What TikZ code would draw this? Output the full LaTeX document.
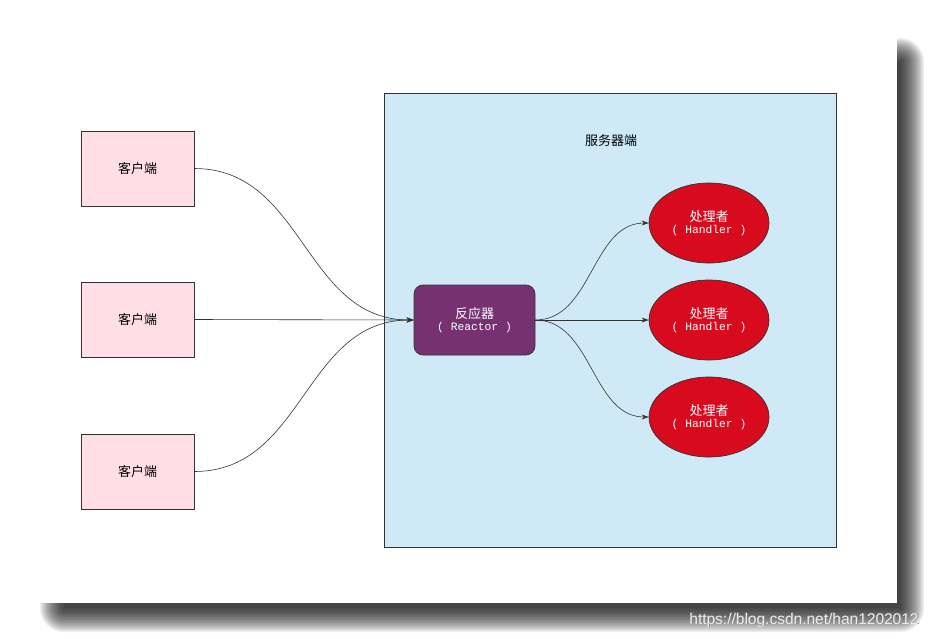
\documentclass[tikz,border=0pt]{standalone}
\usepackage{fontspec}
\setmainfont{Liberation Sans}
\newfontfamily\cjk{Noto Sans CJK SC}
\newfontfamily\monof{Liberation Mono}
\usetikzlibrary{shapes.geometric,arrows.meta}
\definecolor{pinkfill}{RGB}{255,223,229}
\definecolor{srvfill}{RGB}{207,234,246}
\definecolor{reacfill}{RGB}{118,50,112}
\definecolor{handfill}{RGB}{215,10,30}
\definecolor{strk}{RGB}{51,51,51}
\tikzset{
  client/.style={draw=strk,fill=pinkfill,minimum width=113pt,minimum height=75pt,inner sep=0pt,font=\cjk\fontsize{13}{15}\selectfont,line width=0.7pt},
  reactor/.style={draw=strk,fill=reacfill,rounded corners=9pt,minimum width=121pt,minimum height=70pt,inner sep=0pt,text=white,align=center,line width=0.7pt},
  handler/.style={ellipse,draw=strk,fill=handfill,minimum width=120pt,minimum height=80pt,inner sep=0pt,text=white,align=center,line width=0.7pt},
  conn/.style={draw=strk,line width=0.6pt,-{Stealth[length=7pt,width=5pt]}},
}
\newcommand{\cjkt}[1]{{\cjk\fontsize{13}{15}\selectfont #1}}
\newcommand{\monot}[1]{{\monof\fontsize{11.3}{15}\selectfont #1}}
\begin{document}
\begin{tikzpicture}[x=1pt,y=-1pt]
\useasboundingbox (0,0) rectangle (932,638);
% shadow
\foreach \d in {0,1.5,...,24}{
  \fill[black,opacity=0.075,rounded corners=\d pt] (64-\d,62-\d) rectangle (900+\d,608+\d);
}
% page
\fill[white] (35,35) rectangle (897,603);
% watermark
\node[text=black!45,font=\fontsize{15.5}{17}\selectfont] at (804.8,620.8) {https://blog.csdn.net/han1202012};
\node[text=white!92!black,font=\fontsize{15.5}{17}\selectfont] (wm) at (804,620) {https://blog.csdn.net/han1202012};
% server
\node[draw=strk,fill=srvfill,minimum width=452pt,minimum height=454pt,inner sep=0pt,line width=0.7pt] (srv) at (610,320) {};
\node[font=\cjk\fontsize{13}{15}\selectfont] (srvlabel) at (611,141) {服务器端};
% clients
\node[client] (c1) at (137.5,168.5) {客户端};
\node[client] (c2) at (137.5,319.5) {客户端};
\node[client] (c3) at (137.5,471.5) {客户端};
% reactor
\node[reactor] (r) at (474.5,320) {\cjkt{反应器}\\[0.5pt]\monot{( Reactor )}};
% handlers
\node[handler] (h1) at (709,223) {\cjkt{处理者}\\[0.5pt]\monot{( Handler )}};
\node[handler] (h2) at (709,320) {\cjkt{处理者}\\[0.5pt]\monot{( Handler )}};
\node[handler] (h3) at (709,417) {\cjkt{处理者}\\[0.5pt]\monot{( Handler )}};
% connectors
\draw[conn] (c1.east) .. controls +(110,0) and +(-110,0) .. (r.west);
\draw[conn] (c2.east) -- (r.west);
\draw[conn] (c3.east) .. controls +(110,0) and +(-110,0) .. (r.west);
\draw[conn] (r.east) .. controls +(57,0) and +(-57,0) .. (h1.west);
\draw[conn] (r.east) -- (h2.west);
\draw[conn] (r.east) .. controls +(57,0) and +(-57,0) .. (h3.west);
\end{tikzpicture}
\end{document}
